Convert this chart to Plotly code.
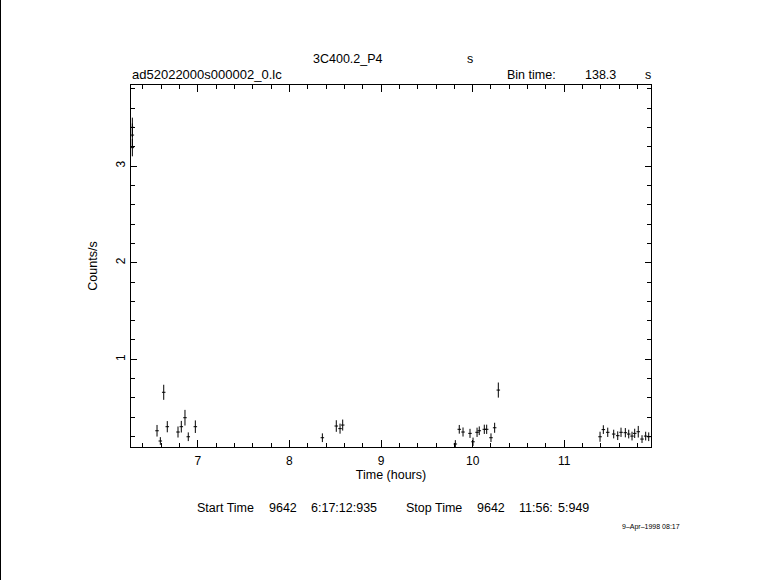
import plotly.graph_objects as go

# ---- data ----
time_hours = [6.2867, 6.2867, 6.2867,
              6.556, 6.592, 6.629, 6.668, 6.785, 6.821, 6.861, 6.897, 6.974,
              8.360, 8.512, 8.553, 8.582,
              9.811, 9.854, 9.895, 9.971, 10.004, 10.048, 10.072, 10.127, 10.153,
              10.200, 10.240, 10.280,
              11.390, 11.426, 11.474, 11.539, 11.583, 11.619, 11.666, 11.703,
              11.739, 11.768, 11.807, 11.848, 11.888, 11.921]
counts = [3.40, 3.32, 3.19,
          0.261, 0.155, 0.659, 0.303, 0.248, 0.303, 0.396, 0.199, 0.303,
          0.189, 0.310, 0.283, 0.320,
          0.124, 0.276, 0.248, 0.234, 0.147, 0.245, 0.261, 0.276, 0.276,
          0.189, 0.292, 0.682,
          0.199, 0.273, 0.245, 0.227, 0.210, 0.245, 0.241, 0.227,
          0.206, 0.234, 0.251, 0.175, 0.206, 0.199]
count_err = [0.10, 0.12, 0.09,
             0.060, 0.040, 0.078, 0.058, 0.057, 0.060, 0.081, 0.045, 0.065,
             0.045, 0.060, 0.052, 0.057,
             0.040, 0.045, 0.047, 0.047, 0.043, 0.048, 0.045, 0.048, 0.048,
             0.045, 0.052, 0.078,
             0.052, 0.045, 0.048, 0.045, 0.045, 0.048, 0.048, 0.045,
             0.045, 0.048, 0.060, 0.040, 0.045, 0.045]
bin_time_s = 138.3
half_bin_h = bin_time_s / 3600 / 2

x_ticks = [7, 8, 9, 10, 11]
y_ticks = [1, 2, 3]

W, H = 781, 580
ML, MR, MT, MB = 131, 130, 85, 133
PW, PH = W - ML - MR, H - MT - MB


def fx(px):
    return (px - ML) / PW


def fy(py):
    return (H - MB - py) / PH


FONT = "Liberation Sans"

fig = go.Figure()
fig.add_trace(go.Scatter(
    x=time_hours, y=counts, mode="markers",
    marker=dict(size=2, color="black", opacity=0),
    error_x=dict(type="constant", value=half_bin_h, width=0, thickness=1, color="black"),
    error_y=dict(type="data", array=count_err, width=0, thickness=1, color="black"),
    showlegend=False, hoverinfo="x+y",
))

axis_common = dict(
    showline=True, linecolor="black", linewidth=1, mirror="allticks",
    ticks="inside", tickcolor="black", tickwidth=1,
    showgrid=False, zeroline=False,
    tickfont=dict(family=FONT, size=12, color="black"),
)

fig.update_xaxes(
    range=[6.272, 11.946], tickvals=x_ticks, ticklen=7, ticklabelstandoff=3,
    minor=dict(dtick=0.2, tick0=0, ticks="inside", ticklen=4, tickcolor="black", showgrid=False),
    title=dict(text="Time (hours)", font=dict(family=FONT, size=12.5, color="black"), standoff=2),
    **axis_common,
)
fig.update_yaxes(
    range=[0.093, 3.838], tickvals=y_ticks, ticklen=6, tickangle=-90,
    minor=dict(dtick=0.2, tick0=0, ticks="inside", ticklen=4, tickcolor="black", showgrid=False),
    title=dict(text="Counts/s", font=dict(family=FONT, size=12.5, color="black"), standoff=13),
    **axis_common,
)

ann = []


def txt(s, px, py, anchor="left", size=12.5):
    ann.append(dict(text=s, x=fx(px), y=fy(py), xref="paper", yref="paper",
                    xanchor=anchor, yanchor="middle", showarrow=False,
                    font=dict(family=FONT, size=size, color="black")))


txt("3C400.2_P4", 311, 59)
txt("s", 465, 59)
txt("ad52022000s000002_0.lc", 130, 75, size=13)
txt("Bin time:", 505, 75)
txt("138.3", 583, 75)
txt("s", 643, 75)

txt("Start Time", 195, 508)
txt("9642", 267, 508)
txt("6:17:12:935", 309, 508)
txt("Stop Time", 404, 508)
txt("9642", 475, 508)
txt("11:56:", 517, 508)
txt("5:949", 556, 508)

txt("9\u2013Apr\u20131998 08:17", 620, 527, size=7)

fig.update_layout(
    width=W, height=H,
    margin=dict(l=ML, r=MR, t=MT, b=MB, pad=0),
    paper_bgcolor="white", plot_bgcolor="white",
    annotations=ann,
    shapes=[dict(type="line", xref="paper", yref="paper",
                 x0=fx(0.5), x1=fx(0.5), y0=fy(0), y1=fy(H),
                 line=dict(color="black", width=1))],
)

fig.write_html("out.html", config={"displayModeBar": False},
               post_script="document.body.style.margin='0';document.body.style.padding='0';")
